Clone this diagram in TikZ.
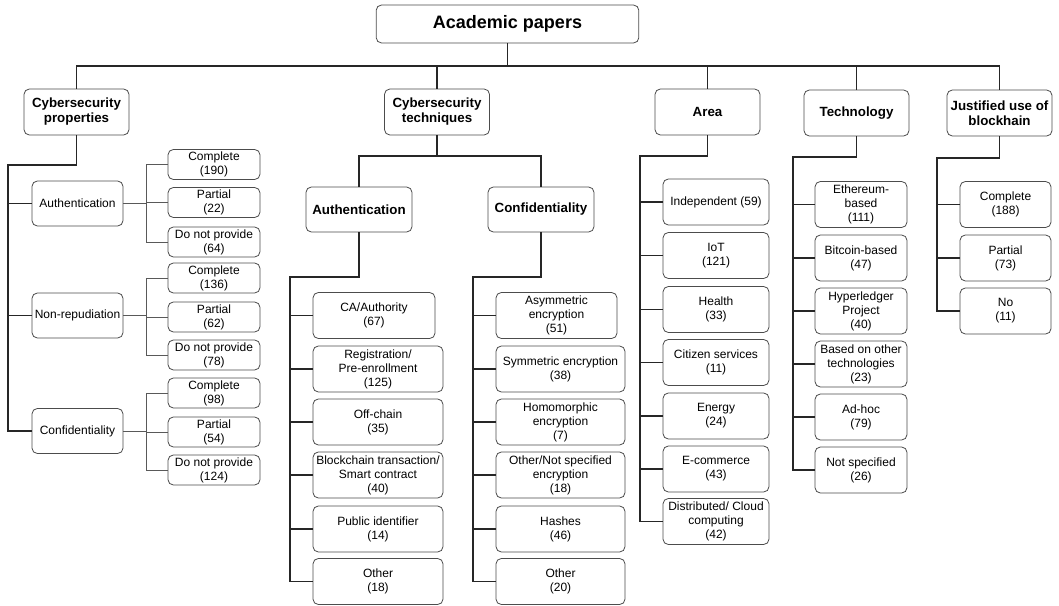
\documentclass[tikz,border=0pt]{standalone}
\usepackage{fontspec}
\setmainfont{Liberation Sans}
\usepackage{tikz}
\usetikzlibrary{calc}

\begin{document}
\begin{tikzpicture}[x=0.75pt, y=-0.75pt,
	box/.style={draw=black!70, line width=0.6pt, rounded corners=4pt, fill=white, align=center, inner sep=1pt},
	rootbox/.style={box, font=\bfseries\fontsize{13.5}{16}\selectfont, minimum width=197pt, minimum height=28.5pt},
	headbox/.style={box, font=\bfseries\fontsize{10}{11.25}\selectfont, minimum width=78.75pt, minimum height=34.5pt},
	item/.style={box, font=\fontsize{9}{10.5}\selectfont, minimum width=#1, minimum height=34.5pt},
	trunk/.style={line width=1.1pt, black!85},
	twig/.style={line width=0.6pt, black!65}]

	\useasboundingbox (0,0) rectangle (1059,606);

	% top levels
	\node[rootbox] (root) at (507.5,24) {Academic papers};
	\node[headbox] (cprop) at (76.5,112) {Cybersecurity\\properties};
	\node[headbox] (ctech) at (437,112) {Cybersecurity\\techniques};
	\node[headbox] (area) at (707.5,112) {Area};
	\node[headbox] (tech) at (856.5,113) {Technology};
	\node[headbox] (just) at (999.5,113) {Justified use of\\blockhain};

	\coordinate (bus) at (0,66);
	\foreach \h in {cprop,ctech,area,tech,just}
		\draw[trunk] (root.south) -- (root.south |- bus) -| (\h.north);

	% cybersecurity properties
	\node[item=68.25pt, minimum height=33.75pt] (pauth) at (77.5,203.5) {Authentication};
	\node[item=68.25pt, minimum height=33.75pt] (pnonrep) at (77.5,315.5) {Non-repudiation};
	\node[item=68.25pt, minimum height=33.75pt] (pconf) at (77.5,431) {Confidentiality};

	\node[item=69pt, minimum height=22.5pt] (pauth1) at (214,164.5) {Complete\\(190)};
	\node[item=69pt, minimum height=22.5pt] (pauth2) at (214,202.5) {Partial\\(22)};
	\node[item=69pt, minimum height=22.5pt] (pauth3) at (214,242) {Do not provide\\(64)};
	\node[item=69pt, minimum height=22.5pt] (pnonrep1) at (214,278) {Complete\\(136)};
	\node[item=69pt, minimum height=22.5pt] (pnonrep2) at (214,317) {Partial\\(62)};
	\node[item=69pt, minimum height=22.5pt] (pnonrep3) at (214,355) {Do not provide\\(78)};
	\node[item=69pt, minimum height=22.5pt] (pconf1) at (214,393) {Complete\\(98)};
	\node[item=69pt, minimum height=22.5pt] (pconf2) at (214,432) {Partial\\(54)};
	\node[item=69pt, minimum height=22.5pt] (pconf3) at (214,470) {Do not provide\\(124)};

	\coordinate (ptrunk) at (8,165);
	\coordinate (psplit) at (146,0);
	\foreach \s in {pauth,pnonrep,pconf} {
		\draw[trunk] (cprop.south) |- (ptrunk) |- (\s.west);
		\foreach \i in {1,2,3}
			\draw[twig] (\s.east) -- (\s.east -| psplit) |- (\s\i.west);
	}

	% cybersecurity techniques
	\node[headbox, minimum width=79.5pt, minimum height=33.75pt] (tauth) at (359,209.5) {Authentication};
	\node[headbox, minimum width=79.5pt, minimum height=33.75pt] (tconf) at (541,209.5) {Confidentiality};

	\coordinate (tbus) at (0,156);
	\foreach \s in {tauth,tconf}
		\draw[trunk] (ctech.south) -- (ctech.south |- tbus) -| (\s.north);

	\node[item=91.5pt] (tauth1) at (374,315.5) {CA/Authority\\(67)};
	\node[item=97.5pt] (tauth2) at (378,369) {Registration/\\Pre-enrollment\\(125)};
	\node[item=97.5pt] (tauth3) at (378,422) {Off-chain\\(35)};
	\node[item=97.5pt] (tauth4) at (378,475) {Blockchain transaction/\\Smart contract\\(40)};
	\node[item=97.5pt] (tauth5) at (378,529) {Public identifier\\(14)};
	\node[item=97.5pt] (tauth6) at (378,581.5) {Other\\(18)};

	\node[item=90.75pt] (tconf1) at (556.5,315.5) {Asymmetric\\encryption\\(51)};
	\node[item=96.75pt] (tconf2) at (560.5,369) {Symmetric encryption\\(38)};
	\node[item=96.75pt] (tconf3) at (560.5,422) {Homomorphic\\encryption\\(7)};
	\node[item=96.75pt] (tconf4) at (560.5,475) {Other/Not specified\\encryption\\(18)};
	\node[item=96.75pt] (tconf5) at (560.5,529) {Hashes\\(46)};
	\node[item=96.75pt] (tconf6) at (560.5,581.5) {Other\\(20)};

	\coordinate (atrunk) at (290,277);
	\coordinate (ctrunk) at (473,277);
	\foreach \i in {1,...,6} {
		\draw[trunk] (tauth.south) |- (atrunk) |- (tauth\i.west);
		\draw[trunk] (tconf.south) |- (ctrunk) |- (tconf\i.west);
	}

	% area
	\node[item=79.5pt] (area1) at (716,202) {Independent (59)};
	\node[item=79.5pt] (area2) at (716,255.5) {IoT\\(121)};
	\node[item=79.5pt] (area3) at (716,309.5) {Health\\(33)};
	\node[item=79.5pt] (area4) at (716,362.5) {Citizen services\\(11)};
	\node[item=79.5pt] (area5) at (716,416) {Energy\\(24)};
	\node[item=79.5pt] (area6) at (716,469) {E-commerce\\(43)};
	\node[item=79.5pt] (area7) at (716,521.5) {Distributed/ Cloud\\computing\\(42)};

	\coordinate (artrunk) at (640,156);
	\foreach \i in {1,...,7}
		\draw[trunk] (area.south) |- (artrunk) |- (area\i.west);

	% technology
	\node[item=69pt] (tech1) at (861,204.5) {Ethereum-\\based\\(111)};
	\node[item=69pt] (tech2) at (861,258) {Bitcoin-based\\(47)};
	\node[item=69pt] (tech3) at (861,311) {Hyperledger\\Project\\(40)};
	\node[item=69pt] (tech4) at (861,364) {Based on other\\technologies\\(23)};
	\node[item=69pt] (tech5) at (861,417) {Ad-hoc\\(79)};
	\node[item=69pt] (tech6) at (861,470) {Not specified\\(26)};

	\coordinate (tetrunk) at (793,157);
	\foreach \i in {1,...,6}
		\draw[trunk] (tech.south) |- (tetrunk) |- (tech\i.west);

	% justified use
	\node[item=68.25pt] (just1) at (1005.5,204.5) {Complete\\(188)};
	\node[item=68.25pt] (just2) at (1005.5,258) {Partial\\(73)};
	\node[item=68.25pt] (just3) at (1005.5,311) {No\\(11)};

	\coordinate (jtrunk) at (937,158);
	\foreach \i in {1,2,3}
		\draw[trunk] (just.south) |- (jtrunk) |- (just\i.west);

\end{tikzpicture}
\end{document}
